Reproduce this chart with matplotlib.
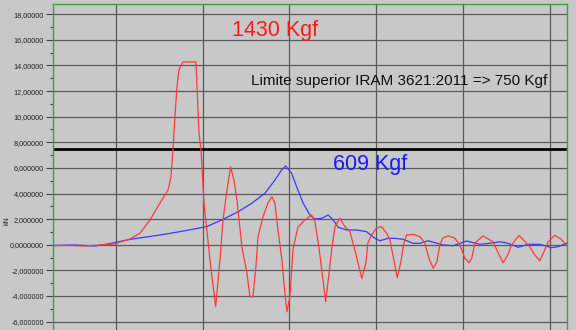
import matplotlib
matplotlib.use("Agg")
import matplotlib.pyplot as plt
from matplotlib.ticker import MultipleLocator, FixedLocator

# ---- data (kN vs. time, arbitrary x units; grid every 1 unit) ----
red_x = [-0.72, -0.526, -0.353, -0.181, -0.008, 0.049, 0.165, 0.280, 0.395, 0.510,
         0.602, 0.636, 0.659, 0.682, 0.705, 0.728, 0.774, 0.924, 0.936, 0.959,
         0.982, 1.016, 1.074, 1.085, 1.151, 1.200, 1.235, 1.281, 1.323, 1.361,
         1.396, 1.453, 1.511, 1.545, 1.580, 1.614, 1.638, 1.695, 1.753, 1.799,
         1.833, 1.868, 1.914, 1.948, 1.971, 2.006, 2.040, 2.098, 2.178, 2.255,
         2.293, 2.339, 2.382, 2.417, 2.443, 2.486, 2.524, 2.581, 2.639, 2.696,
         2.754, 2.800, 2.834, 2.880, 2.903, 2.946, 3.003, 3.061, 3.119, 3.157,
         3.203, 3.241, 3.283, 3.318, 3.349, 3.425, 3.502, 3.559, 3.605, 3.655,
         3.697, 3.732, 3.766, 3.827, 3.904, 3.962, 4.020, 4.066, 4.100, 4.135,
         4.230, 4.345, 4.399, 4.460, 4.514, 4.557, 4.644, 4.768, 4.825, 4.883,
         4.929, 4.978, 5.055, 5.124, 5.188]
red_y = [-0.06, -0.06, -0.10, -0.02, 0.05, 0.21, 0.45, 0.91, 1.93, 3.26,
         4.27, 5.29, 7.40, 9.98, 12.32, 13.65, 14.27, 14.27, 12.32, 8.73,
         7.40, 3.26, -0.41, -1.20, -4.84, -1.20, 1.93, 4.27, 6.09, 5.05,
         3.49, -0.18, -2.21, -4.06, -4.06, -1.74, 0.60, 2.16, 3.26, 3.75,
         3.26, 1.15, -1.20, -3.77, -5.23, -4.06, -0.41, 1.38, 1.93, 2.32,
         1.80, -0.16, -2.50, -4.45, -2.99, -0.41, 1.41, 2.06, 1.41, 1.02,
         -0.41, -1.72, -2.63, -1.43, 0.13, 0.76, 1.30, 1.41, 0.89, 0.37,
         -1.20, -2.58, -1.35, 0.13, 0.76, 0.81, 0.63, 0.13, -1.04, -1.84,
         -1.35, -0.02, 0.52, 0.70, 0.52, -0.02, -1.04, -1.41, -1.04, 0.13,
         0.68, 0.23, -0.57, -1.41, -0.80, -0.02, 0.73, -0.16, -0.80, -1.25,
         -0.57, 0.23, 0.73, 0.45, -0.02]

blue_x = [-0.72, -0.468, -0.238, -0.066, 0.165, 0.510, 0.740, 1.047, 1.220, 1.411,
          1.565, 1.718, 1.833, 1.910, 1.956, 2.025, 2.083, 2.159, 2.236, 2.293,
          2.371, 2.446, 2.504, 2.562, 2.658, 2.773, 2.888, 2.984, 3.041, 3.137,
          3.214, 3.310, 3.425, 3.502, 3.597, 3.674, 3.770, 3.885, 4.039, 4.115,
          4.192, 4.307, 4.422, 4.518, 4.633, 4.748, 4.883, 5.017, 5.093, 5.188]
blue_y = [-0.06, -0.02, -0.10, 0.09, 0.42, 0.76, 1.02, 1.41, 1.93, 2.58,
          3.23, 4.02, 5.05, 5.84, 6.15, 5.58, 4.53, 3.23, 2.32, 2.01,
          2.06, 2.32, 1.93, 1.36, 1.15, 1.15, 1.02, 0.50, 0.31, 0.50,
          0.50, 0.42, 0.11, 0.11, 0.31, 0.16, -0.02, -0.08, 0.29, 0.16,
          0.03, 0.11, 0.23, 0.11, -0.20, 0.03, 0.03, -0.23, -0.16, 0.11]

limit_value = 7.5
ytick_values = [18, 16, 14, 12, 10, 8, 6, 4, 2, 0, -2, -4, -6]
ytick_labels = ["18,00000", "16,00000", "14,00000", "12,00000", "10,00000",
                "8,000000", "6,000000", "4,000000", "2,000000", "0,0000000",
                "-2,000000", "-4,000000", "-6,000000"]
xgrid_values = [0, 1, 2, 3, 4, 5]

# ---- figure ----
bg = "#c8c8c8"
fig = plt.figure(figsize=(5.76, 3.30), dpi=100, facecolor=bg)
ax = fig.add_axes([53 / 576, 0.0, (566.5 - 53) / 576, 1 - 4 / 330])
ax.set_facecolor(bg)

ax.set_xlim(-0.722, 5.19)
ax.set_ylim(-6.66, 18.80)

ax.yaxis.set_major_locator(FixedLocator(ytick_values))
ax.set_yticklabels(ytick_labels, fontsize=5.2, family="Liberation Sans", color="#222222")
ax.yaxis.set_minor_locator(MultipleLocator(1))
ax.tick_params(axis="y", which="major", direction="out", length=5, width=0.8,
               color="#444444", pad=1.5)
ax.tick_params(axis="y", which="minor", direction="out", length=2, width=0.8,
               color="#444444")
ax.set_xticks(xgrid_values)
ax.tick_params(axis="x", which="both", length=0, labelbottom=False)

ax.grid(True, which="major", axis="both", color="#5a5a5a", linewidth=0.9)
ax.set_axisbelow(True)

for side in ("left", "top", "right"):
    ax.spines[side].set_color("#3fa03f")
    ax.spines[side].set_linewidth(1.0)
ax.spines["bottom"].set_visible(False)

ax.set_ylabel("kN", fontsize=5, family="Liberation Sans", color="#222222", labelpad=2)
ax.yaxis.set_label_coords(-0.083, 0.335)

ax.axhline(limit_value, color="black", linewidth=2.0, zorder=2)
ax.plot(blue_x, blue_y, color="#3a3aff", linewidth=0.9, zorder=3)
ax.plot(red_x, red_y, color="#ff3a3a", linewidth=0.9, zorder=4)

ax.text(1.833, 16.3, "1430 Kgf", color="#ff1a1a", fontsize=15.5,
        family="Liberation Sans", ha="center", va="baseline")
ax.text(1.553, 12.48, "Limite superior IRAM 3621:2011 => 750 Kgf", color="#111111",
        fontsize=11, family="Liberation Sans", ha="left", va="baseline")
ax.text(2.50, 5.84, "609 Kgf", color="#1a1aff", fontsize=15.5,
        family="Liberation Sans", ha="left", va="baseline")

fig.savefig("out.png", dpi=100, facecolor=bg)
